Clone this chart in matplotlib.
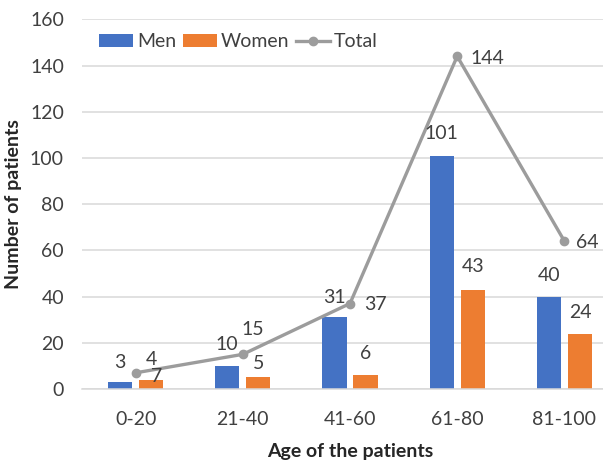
import matplotlib.pyplot as plt
import numpy as np

# data
age_groups = ["0-20", "21-40", "41-60", "61-80", "81-100"]
men = [3, 10, 31, 101, 40]
women = [4, 5, 6, 43, 24]
total = [7, 15, 37, 144, 64]

# label offsets in pixels (dx, dy), y up
men_off = [(0, 20), (0, 21), (0, 20), (0, 22), (0, 21)]
women_off = [(0, 20), (0, 14), (0, 22), (0, 23), (0, 21)]
total_off = [(21, -4), (10, 25), (25, -1), (30, -2), (23, -1)]

plt.rcParams["font.family"] = ["Lato", "DejaVu Sans"]

fig = plt.figure(figsize=(6.03, 4.68), dpi=100)
ax = fig.add_axes([82 / 603, 79 / 468, 536 / 603, 369.7 / 468])

x = np.arange(len(age_groups))
w = 0.225
off = 0.145

b1 = ax.bar(x - off, men, w, color="#4472C4", label="Men", zorder=2)
b2 = ax.bar(x + off, women, w, color="#ED7D31", label="Women", zorder=2)
ln, = ax.plot(x, total, color="#9C9C9C", lw=2.4, marker="o", ms=6,
              label="Total", zorder=3)

lab_kw = dict(textcoords="offset pixels", ha="center", va="center",
              fontsize=14, color="#404040", zorder=4)
for i in range(len(x)):
    ax.annotate(str(men[i]), (x[i] - off, men[i]), xytext=men_off[i], **lab_kw)
    ax.annotate(str(women[i]), (x[i] + off, women[i]), xytext=women_off[i], **lab_kw)
    ax.annotate(str(total[i]), (x[i], total[i]), xytext=total_off[i], **lab_kw)

ax.set_xlim(-0.5, 4.5)
ax.set_ylim(0, 160)
ax.set_yticks(range(0, 161, 20))
ax.set_xticks(x)
ax.set_xticklabels(age_groups)
ax.grid(axis="y", color="#D9D9D9", lw=1.1, zorder=0)
ax.set_axisbelow(True)
for s in ["top", "right", "left"]:
    ax.spines[s].set_visible(False)
ax.spines["bottom"].set_color("#D9D9D9")
ax.spines["bottom"].set_linewidth(1.1)
ax.tick_params(length=0, labelsize=14, colors="#404040")
ax.tick_params(axis="y", pad=13)
ax.tick_params(axis="x", pad=16)

ax.set_xlabel("Age of the patients", fontsize=14, fontweight="bold",
              color="#262626", labelpad=11)
ax.set_ylabel("Number of patients", fontsize=14, fontweight="bold",
              color="#262626", labelpad=6)

ax.legend(handles=[b1, b2, ln], ncol=3, frameon=False, loc="center left",
          bbox_to_anchor=(0.032, 0.939), fontsize=14, borderpad=0,
          borderaxespad=0, handlelength=1.75, handletextpad=0.2,
          columnspacing=0.35, labelcolor="#404040")

fig.savefig("out.png", dpi=100)
